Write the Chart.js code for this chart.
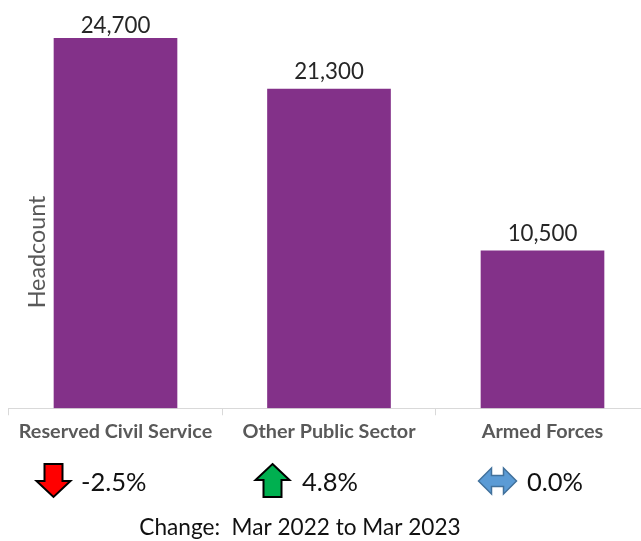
<!DOCTYPE html>
<html>
<head>
<meta charset="utf-8">
<style>
html,body{margin:0;padding:0;background:#fff;overflow:hidden;width:641px;height:541px}
canvas{display:block}
</style>
<script src="https://cdn.jsdelivr.net/npm/chart.js@4"></script>
</head>
<body>
<canvas id="c" width="650" height="541" style="width:650px;height:541px"></canvas>
<script>
const categories = ["Reserved Civil Service", "Other Public Sector", "Armed Forces"];
const headcount = [24700, 21300, 10500];
const changePct = [-2.5, 4.8, 0.0];
const yTitle = "Headcount";
const changeNote = "Change:  Mar 2022 to Mar 2023";
const FONT = "Lato, Carlito, sans-serif";

function poly(ctx, pts, fill, stroke, lw) {
  ctx.beginPath();
  pts.forEach((p, i) => i ? ctx.lineTo(p[0], p[1]) : ctx.moveTo(p[0], p[1]));
  ctx.closePath();
  ctx.fillStyle = fill; ctx.fill();
  ctx.lineJoin = "miter"; ctx.lineWidth = lw; ctx.strokeStyle = stroke; ctx.stroke();
}
function arrow(ctx, v, cx, midY) {
  if (v < 0) {
    poly(ctx, [[cx-9,midY-17],[cx+9,midY-17],[cx+9,midY],[cx+17,midY],[cx,midY+16],[cx-17,midY],[cx-9,midY]], "#FF0000", "#000", 2);
  } else if (v > 0) {
    poly(ctx, [[cx,midY-17],[cx+17,midY-1],[cx+9,midY-1],[cx+9,midY+16],[cx-9,midY+16],[cx-9,midY-1],[cx-17,midY-1]], "#00B050", "#000", 2);
  } else {
    poly(ctx, [[cx-19,midY],[cx-6,midY-13],[cx-6,midY-5.5],[cx+6,midY-5.5],[cx+6,midY-13],[cx+19,midY],[cx+6,midY+13],[cx+6,midY+5.5],[cx-6,midY+5.5],[cx-6,midY+13]], "#5B9BD5", "#41719C", 1.5);
  }
}
const annotate = {
  id: "annotate",
  afterDraw(chart) {
    const {ctx, scales} = chart;
    const x = scales.x, y = scales.y;
    ctx.save();
    ctx.textAlign = "center"; ctx.textBaseline = "alphabetic";
    ctx.fillStyle = "#262626"; ctx.font = "22.3px " + FONT;
    const labelGap = [5, 10, 10];
    headcount.forEach((v, i) => {
      ctx.fillText(v.toLocaleString("en-US"), x.getPixelForValue(i), y.getPixelForValue(v) - labelGap[i]);
    });
    const arrowDx = [-62, -56.5, -45], textX = [81, 302, 527];
    changePct.forEach((v, i) => {
      const cx = x.getPixelForValue(i);
      arrow(ctx, v, cx + arrowDx[i], 481);
      ctx.fillStyle = "#111"; ctx.font = "25.5px " + FONT; ctx.textAlign = "left";
      ctx.fillText(v.toFixed(1) + "%", textX[i], 491);
    });
    ctx.textAlign = "center";
    ctx.fillStyle = "#111"; ctx.font = "22.6px " + FONT;
    ctx.fillText(changeNote, 300, 535);
    ctx.translate(37, 252); ctx.rotate(-Math.PI/2);
    ctx.fillStyle = "#595959"; ctx.font = "23.3px " + FONT;
    ctx.fillText(yTitle, 0, 8);
    ctx.restore();
  }
};
new Chart(document.getElementById("c"), {
  type: "bar",
  data: { labels: categories, datasets: [{ data: headcount, backgroundColor: "#833189", barThickness: 123, borderWidth: 0 }] },
  options: {
    responsive: false, animation: false,
    layout: { padding: { left: 8.75, right: 0.75, top: 38, bottom: 94 } },
    plugins: { legend: { display: false }, tooltip: { enabled: false }, title: { display: false } },
    scales: {
      y: { display: false, min: 0, max: 24700 },
      x: {
        border: { color: "#d9d9d9", width: 1 },
        grid: { drawOnChartArea: false, color: "#d9d9d9", tickLength: 7 },
        ticks: { color: "#595959", font: { family: FONT, size: 19.8, weight: "bold" }, maxRotation: 0, autoSkip: false, padding: 4 }
      }
    }
  },
  plugins: [annotate]
});
</script>
</body>
</html>
